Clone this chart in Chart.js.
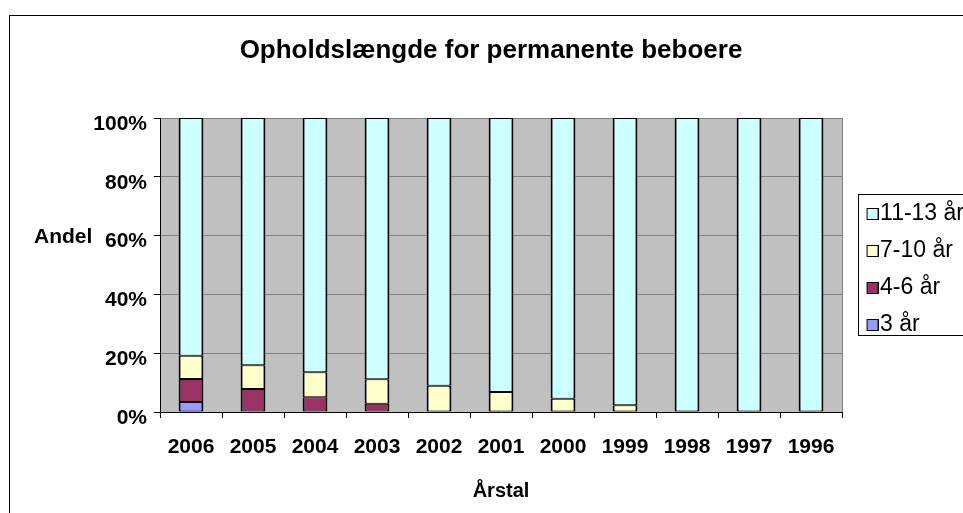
<!DOCTYPE html>
<html>
<head>
<meta charset="utf-8">
<title>Opholdslængde for permanente beboere</title>
<script src="https://cdn.jsdelivr.net/npm/chart.js@4"></script>
<style>
    html, body { margin: 0; padding: 0; background: #fff; overflow: hidden; }
    #wrap { width: 1000px; height: 540px; }
</style>
</head>
<body>
<div id="wrap"><canvas id="opholdChart" width="1000" height="540"></canvas></div>
<script>
// Data (percent of residents per year)
const years = ['2006', '2005', '2004', '2003', '2002', '2001', '2000', '1999', '1998', '1997', '1996'];
const aar3 = [3.4, 0, 0, 0, 0, 0, 0, 0, 0, 0, 0];
const aar4til6 = [7.8, 7.8, 5.0, 2.8, 0, 0, 0, 0, 0, 0, 0];
const aar7til10 = [7.9, 8.1, 8.5, 8.3, 8.9, 6.8, 4.5, 2.3, 0, 0, 0];
const aar11til13 = [80.9, 84.1, 86.5, 88.9, 91.1, 93.2, 95.5, 97.7, 100, 100, 100];
const yTicks = [0, 20, 40, 60, 80, 100];

const FONT = "'Liberation Sans', Arial, sans-serif";
Chart.defaults.font.family = FONT;
Chart.defaults.color = '#000';

// Legend swatch: square sits at the right of a wider transparent image,
// so the label text ends up close to the square like in the original
function swatch(color) {
    const c = document.createElement('canvas');
    c.width = 22;
    c.height = 12;
    const g = c.getContext('2d');
    g.fillStyle = color;
    g.fillRect(10, 0, 12, 12);
    g.strokeStyle = '#000';
    g.lineWidth = 1;
    g.strokeRect(10.5, 0.5, 11, 11);
    return c;
}

// Grey plot area, outer frame, legend border and the horizontal "Andel" label
const chartDecor = {
    id: 'chartDecor',
    beforeDraw(chart) {
        const ctx = chart.ctx;
        const a = chart.chartArea;
        ctx.save();
        ctx.strokeStyle = '#000';
        ctx.lineWidth = 1;
        ctx.strokeRect(9.5, 15.5, chart.width, chart.height);
        ctx.fillStyle = '#c0c0c0';
        ctx.fillRect(a.left, a.top, a.right - a.left, a.bottom - a.top);
        ctx.strokeStyle = '#808080';
        ctx.beginPath();
        ctx.moveTo(Math.round(a.right) + 0.5, a.top);
        ctx.lineTo(Math.round(a.right) + 0.5, a.bottom);
        ctx.stroke();
        ctx.restore();
    },
    afterDraw(chart) {
        const ctx = chart.ctx;
        const hb = chart.legend.legendHitBoxes;
        ctx.save();
        if (hb && hb.length) {
            const first = hb[0];
            const last = hb[hb.length - 1];
            const top = Math.round(first.top - 8.5) + 0.5;
            const bottom = Math.round(last.top + last.height - 2) + 0.5;
            const left = Math.round(first.left - 8.5) + 0.5;
            ctx.strokeStyle = '#000';
            ctx.lineWidth = 1;
            ctx.strokeRect(left, top, chart.width, bottom - top);
        }
        ctx.font = 'bold 21px ' + FONT;
        ctx.fillStyle = '#000';
        ctx.textAlign = 'left';
        ctx.textBaseline = 'middle';
        ctx.fillText('Andel', 34, 237);
        ctx.restore();
    }
};

// zero shares are left out so no empty outline is drawn
function makeDataset(label, data, color) {
    return {
        label: label,
        data: data.map(v => (v === 0 ? null : v)),
        backgroundColor: color,
        borderColor: '#000',
        borderWidth: { top: 1, bottom: 1, left: 2, right: 2 },
        borderSkipped: false,
        barPercentage: 0.4,
        categoryPercentage: 1.0,
        pointStyle: swatch(color)
    };
}

const ctx = document.getElementById('opholdChart').getContext('2d');
new Chart(ctx, {
    type: 'bar',
    data: {
        labels: years,
        datasets: [
            makeDataset('3 år', aar3, '#9999ff'),
            makeDataset('4-6 år', aar4til6, '#993366'),
            makeDataset('7-10 år', aar7til10, '#ffffcc'),
            makeDataset('11-13 år', aar11til13, '#ccffff')
        ]
    },
    options: {
        responsive: false,
        animation: false,
        layout: {
            padding: { top: 0, left: 8, right: 26, bottom: 37 }
        },
        plugins: {
            title: {
                display: true,
                text: 'Opholdslængde for permanente beboere',
                font: { size: 26, weight: 'bold' },
                color: '#000',
                padding: { top: 35.4, bottom: 51.4 }
            },
            legend: {
                position: 'right',
                fullSize: false,
                reverse: true,
                title: {
                    display: true,
                    text: '',
                    font: { size: 7.5 },
                    padding: 0
                },
                labels: {
                    usePointStyle: true,
                    pointStyleWidth: 2,
                    padding: 14,
                    color: '#000',
                    font: { size: 23 }
                }
            },
            tooltip: { enabled: false }
        },
        scales: {
            x: {
                stacked: true,
                offset: true,
                afterFit: function(scale) { scale.height = 91; },
                grid: {
                    offset: true,
                    drawOnChartArea: false,
                    drawTicks: true,
                    tickLength: 6,
                    tickColor: '#000'
                },
                border: { display: true, color: '#000', width: 1 },
                ticks: {
                    padding: 17,
                    maxRotation: 0,
                    font: { size: 21, weight: 'bold' },
                    color: '#000'
                },
                title: {
                    display: true,
                    text: 'Årstal',
                    font: { size: 20, weight: 'bold' },
                    color: '#000',
                    padding: 0
                }
            },
            y: {
                stacked: true,
                min: 0,
                max: 100,
                afterFit: function(scale) { scale.width = 152; },
                afterBuildTicks: function(scale) {
                    scale.ticks = yTicks.map(v => ({ value: v }));
                },
                grid: {
                    color: '#808080',
                    tickColor: '#000',
                    tickLength: 6,
                    drawTicks: true
                },
                border: { display: true, color: '#000', width: 1 },
                ticks: {
                    padding: 7,
                    labelOffset: 6,
                    font: { size: 21, weight: 'bold' },
                    color: '#000',
                    callback: function(value) { return value + '%'; }
                }
            },
            // empty spacer between plot area and legend
            gap: {
                type: 'linear',
                position: 'right',
                display: true,
                afterFit: function(scale) { scale.width = 10.5; },
                grid: { display: false },
                border: { display: false },
                ticks: { display: false }
            }
        }
    },
    plugins: [chartDecor]
});
</script>
</body>
</html>
